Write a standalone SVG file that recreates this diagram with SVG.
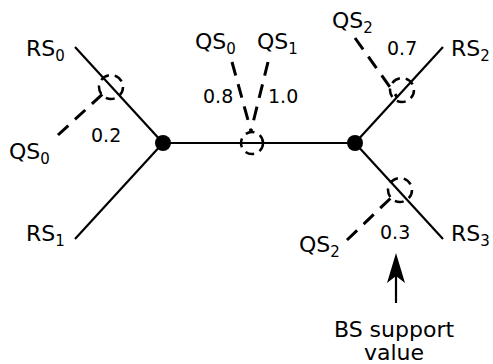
<svg xmlns="http://www.w3.org/2000/svg" width="493" height="364" viewBox="0 0 493 364">
<defs>
<style>
.t{font-family:"DejaVu Sans",sans-serif;font-size:22px;fill:#000}
.n{font-family:"DejaVu Sans",sans-serif;font-size:19px;fill:#000}
.sub{font-size:15px}
.br{stroke:#000;stroke-width:2.2;fill:none}
.q{stroke:#000;stroke-width:3;fill:none;stroke-dasharray:14 9}
.c{stroke:#000;stroke-width:2.5;fill:none;stroke-dasharray:9 6}
</style>
</defs>
<rect width="493" height="364" fill="#fff"/>
<g id="connectors">
<line class="br" x1="75" y1="47" x2="163" y2="143"/>
<line class="br" x1="75" y1="239" x2="163" y2="143"/>
<line class="br" x1="163" y1="143" x2="355" y2="143"/>
<line class="br" x1="443" y1="47" x2="355" y2="143"/>
<line class="br" x1="443" y1="239" x2="355" y2="143"/>
<line class="q" x1="58" y1="135" x2="106" y2="91"/>
<line class="q" x1="232" y1="62" x2="251" y2="131"/>
<line class="q" x1="268" y1="62" x2="251" y2="131"/>
<line class="q" x1="355" y1="38" x2="397" y2="97"/>
<line class="q" x1="347" y1="240" x2="394" y2="195"/>
<line class="br" x1="396" y1="303" x2="396" y2="276"/>
<path d="M396,253 L405,283 L396,276 L387,283 Z" fill="#000"/>
</g>
<g id="circles">
<circle class="c" cx="111" cy="87" r="12"/>
<circle class="c" cx="252" cy="143" r="11"/>
<circle class="c" cx="402" cy="90" r="12"/>
<circle class="c" cx="400" cy="190" r="12"/>
</g>
<g id="node-left"><circle cx="163" cy="143" r="8" fill="#000"/></g>
<g id="node-right"><circle cx="355" cy="143" r="8" fill="#000"/></g>
<g id="labels">
<text class="t" x="26" y="56">RS<tspan class="sub" dy="5">0</tspan></text>
<text class="t" x="26" y="241">RS<tspan class="sub" dy="5">1</tspan></text>
<text class="t" x="451" y="56">RS<tspan class="sub" dy="5">2</tspan></text>
<text class="t" x="451" y="241">RS<tspan class="sub" dy="5">3</tspan></text>
<text class="t" x="9" y="159">QS<tspan class="sub" dy="5">0</tspan></text>
<text class="t" x="195" y="49">QS<tspan class="sub" dy="5">0</tspan></text>
<text class="t" x="257" y="49">QS<tspan class="sub" dy="5">1</tspan></text>
<text class="t" x="332" y="28">QS<tspan class="sub" dy="5">2</tspan></text>
<text class="t" x="299" y="252">QS<tspan class="sub" dy="5">2</tspan></text>
<text class="n" x="91" y="142">0.2</text>
<text class="n" x="203" y="103">0.8</text>
<text class="n" x="268" y="103">1.0</text>
<text class="n" x="387" y="55">0.7</text>
<text class="n" x="380" y="239">0.3</text>
<text class="t" x="394" y="337" text-anchor="middle">BS support</text>
<text class="t" x="394" y="360" text-anchor="middle">value</text>
</g>
</svg>
